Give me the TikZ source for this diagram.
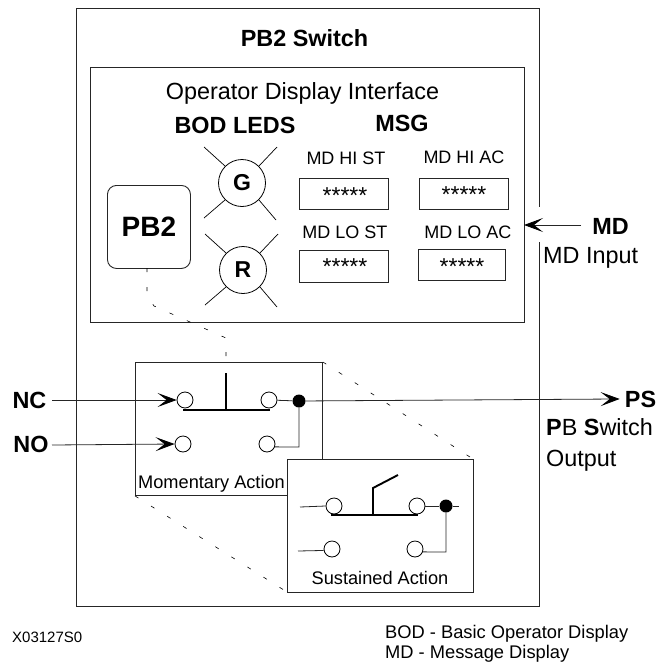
\documentclass[tikz,border=0pt]{standalone}
\usepackage{fontspec}
\setmainfont{Liberation Sans}
\usetikzlibrary{arrows.meta}
\tikzset{
 x=1pt,y=-1pt,
 box/.style={draw=black!85,line width=.9pt,fill=white,inner sep=0pt,anchor=north west},
 contact/.style={circle,draw=black,line width=.8pt,fill=white,minimum size=16pt,inner sep=0pt},
 led/.style={circle,draw=black,line width=.8pt,minimum size=47pt,inner sep=0pt,font=\fontsize{23}{27}\selectfont\bfseries},
 junction/.style={circle,fill=black,minimum size=13pt,inner sep=0pt},
 ray/.style={line width=.7pt},
 wire/.style={line width=.8pt,black!85},
 bar/.style={line width=2.6pt},
 link/.style={line width=.6pt,dash pattern=on 4pt off 15pt},
 opentip/.style={-{Stealth[length=19pt,width=14pt,inset=9pt,black]}},
 txt/.style={inner sep=0pt,anchor=base},
 txtw/.style={inner sep=0pt,anchor=base west},
 big/.style={font=\fontsize{23.4}{27}\selectfont},
 bigb/.style={font=\fontsize{23.4}{27}\selectfont\bfseries},
 mid/.style={font=\fontsize{18}{21}\selectfont},
 stars/.style={inner sep=0pt,font=\fontsize{23}{27}\selectfont},
}
\begin{document}
\begin{tikzpicture}
\useasboundingbox (0,0) rectangle (657,662);
\fill[white] (0,0) rectangle (657,662);
% boxes
\node[box,minimum width=463pt,minimum height=598pt] (outer) at (76,8) {};
\fill[white] (535,207) rectangle (543,242);
\node[box,minimum width=434pt,minimum height=255pt] (iface) at (90,67) {};
\node[txt,bigb] (title) at (304.5,46) {PB2 Switch};
\node[txt,big] (oper) at (302.5,99) {Operator Display Interface};
\node[txt,bigb] (bod) at (235,133) {BOD LEDS};
\node[txt,bigb] (msg) at (402,131) {MSG};
% PB2
\node[box,rounded corners=9pt,minimum width=83pt,minimum height=83pt,font=\fontsize{28}{32}\selectfont\bfseries] (pb) at (107,185) {PB2};
% LEDs
\node[led] (g) at (242,183) {G};
\node[led] (r) at (243,270) {R};
\foreach \n/\cx/\cy in {g/242/183,r/243/270}{
 \draw[ray] (\n.45) -- (\cx+35,\cy-36);
 \draw[ray] (\n.135) -- (\cx-38,\cy-36);
 \draw[ray] (\n.225) -- (\cx-38,\cy+35);
 \draw[ray] (\n.315) -- (\cx+34,\cy+37);
}
% displays
\node[txt,mid] (t1) at (346,164) {MD HI ST};
\node[txt,mid] (t2) at (464,163) {MD HI AC};
\node[txt,mid] (t3) at (345,238) {MD LO ST};
\node[txt,mid] (t4) at (468,238) {MD LO AC};
\node[box,minimum width=89pt,minimum height=31pt] (d1) at (299,178) {};
\node[box,minimum width=89pt,minimum height=31pt] (d2) at (419,178) {};
\node[box,minimum width=89pt,minimum height=32pt] (d3) at (299,250) {};
\node[box,minimum width=87pt,minimum height=31pt] (d4) at (418,249) {};
\node[stars] (s1) at (345,196) {*****};
\node[stars] (s2) at (464,195) {*****};
\node[stars] (s3) at (345,267) {*****};
\node[stars] (s4) at (462,267) {*****};
% MD input
\node[txt,bigb] (md) at (610.5,234) {MD};
\node[txtw,big] (mdi) at (543,263) {MD Input};
\coordinate (mdtail) at (581,225);
\coordinate (mdin) at (524,225);
\draw[wire,opentip] (mdtail) -- (mdin);
% link from push button to the switch
\coordinate (l1) at (147,295);
\coordinate (l2) at (154,306);
\coordinate (l3) at (226,338);
\coordinate (l4) at (226,362);
\coordinate (pbs) at (147,268);
\draw[link] (pbs) -- (l1) -- (l2) -- (l3) -- (l4);
% Momentary
\node[box,minimum width=187pt,minimum height=133pt] (mom) at (135,362) {};
\node[contact] (a1) at (185,400) {};
\node[contact] (a2) at (269,400) {};
\node[contact] (a3) at (183,444) {};
\node[contact] (a4) at (267,444) {};
\node[junction] (aj) at (299,401) {};
\node[txt,bigb] (nc) at (29.5,408) {NC};
\node[txt,bigb] (no) at (31,452) {NO};
\node[txt,bigb] (ps) at (640.5,407) {PS};
\coordinate (ncs) at (52,400);
\coordinate (nos) at (52,445);
\coordinate (aw) at (299,447);
\draw[wire,opentip] (ncs) -- (a1.west);
\draw[wire,opentip] (nos) -- (a3.west);
\draw[wire] (a2) -- (aj);
\draw[wire] (aj) -- (aw) -- (a4.-20);
\draw[wire,opentip,shorten >=5pt] (aj) -- (ps.west);
\coordinate (ab1) at (183,410);
\coordinate (ab2) at (270,410);
\coordinate (ab3) at (226,410);
\coordinate (ab4) at (226,373);
\draw[bar] (ab1) -- (ab2);
\draw[line width=1.9pt] (ab3) -- (ab4);
\node[txtw,font=\fontsize{18.2}{21}\selectfont] (mlab) at (138,488) {Momentary Action};
% output text
\node[txtw,big] (o1) at (546,435) {\textbf{P}B \textbf{S}witch};
\node[txtw,big] (o2) at (546,466) {Output};
% dashed to sustained
\coordinate (sne) at (473,459);
\coordinate (ssw) at (287,592);
\draw[link] (mom.north east) -- (sne);
\draw[link] (mom.south west) -- (ssw);
% Sustained
\node[box,minimum width=186pt,minimum height=133pt] (sus) at (287,459) {};
\node[contact] (b1) at (334,506) {};
\node[contact] (b2) at (417,506) {};
\node[contact] (b3) at (332,549) {};
\node[contact] (b4) at (415,549) {};
\node[junction] (bj) at (446,506) {};
\coordinate (bs1) at (300,507);
\coordinate (bs2) at (298,551);
\coordinate (bs3) at (459,506);
\coordinate (bw) at (446,552);
\draw[wire] (bs1) -- (b1.west);
\draw[wire] (bs2) -- (b3.-170);
\draw[wire] (b2) -- (bj) -- (bs3);
\draw[wire] (bj) -- (bw) -- (b4.-20);
\coordinate (bb1) at (331,515);
\coordinate (bb2) at (418,515);
\coordinate (bb3) at (373,515);
\coordinate (bb4) at (373,488);
\coordinate (bb5) at (398,475);
\draw[bar] (bb1) -- (bb2);
\draw[line width=1.9pt] (bb3) -- (bb4) -- (bb5);
\node[txt,font=\fontsize{18.2}{21}\selectfont] (slab) at (380,584) {Sustained Action};
% footer
\node[txtw,font=\fontsize{15}{18}\selectfont] (x) at (12,642) {X03127S0};
\node[txtw,font=\fontsize{18.3}{21}\selectfont] (f1) at (385,638) {BOD - Basic Operator Display};
\node[txtw,font=\fontsize{18.3}{21}\selectfont] (f2) at (385,658) {MD - Message Display};
\end{tikzpicture}
\end{document}
